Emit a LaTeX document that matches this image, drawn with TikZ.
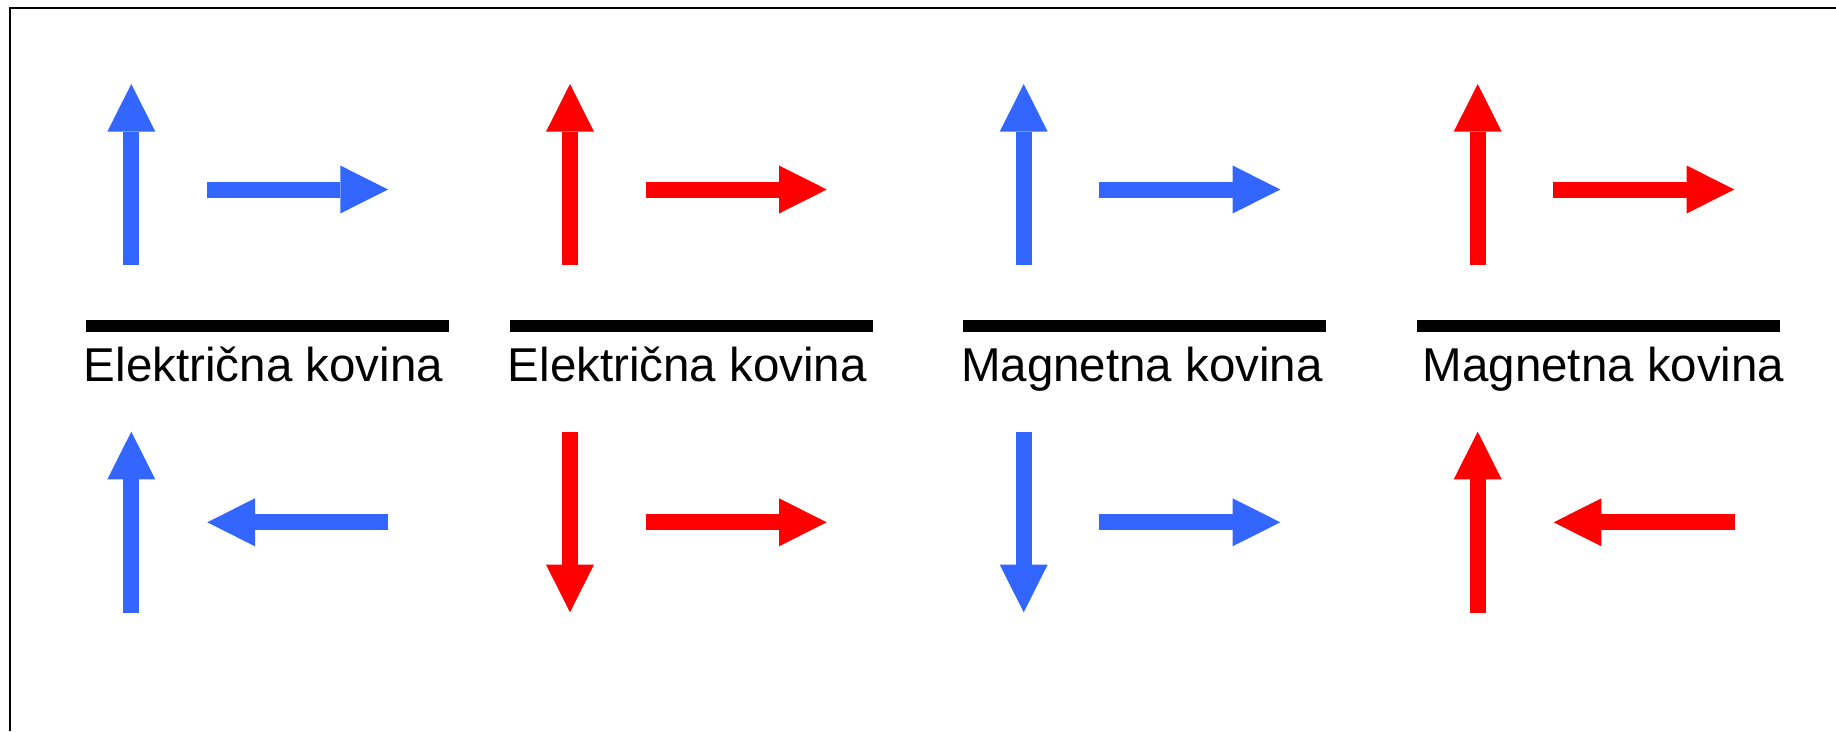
\documentclass[tikz,border=0pt]{standalone}
\usepackage{fontspec}
\setmainfont{Liberation Sans}
\usetikzlibrary{arrows.meta}
\definecolor{myblue}{HTML}{3366FF}
\definecolor{myred}{HTML}{FF0000}
\tikzset{
  fatarrow/.style={line width=16pt, line cap=butt, -{Triangle[length=47.7pt,width=48pt,line width=0pt]}},
  barline/.style={line width=12pt, line cap=butt, black},
  lbl/.style={inner sep=0pt, anchor=base, font=\fontsize{47.5pt}{50pt}\selectfont},
  frameline/.style={line width=2pt, black}
}
\begin{document}
\begin{tikzpicture}[x=1pt,y=-1pt]
\useasboundingbox (0,0) rectangle (1836,731);
\fill[white] (0,0) rectangle (1836,731);
\coordinate (fa) at (10,731);
\coordinate (fb) at (10,8);
\coordinate (fc) at (1836,8);
\draw[frameline] (fa) -- (fb) -- (fc);

% Panel 1
\coordinate (v1a) at (131.3,265);   \coordinate (v1b) at (131.3,84);
\coordinate (h1a) at (207.3,189.5); \coordinate (h1b) at (388,189.5);
\coordinate (u1a) at (131.3,612.7); \coordinate (u1b) at (131.3,431.7);
\coordinate (l1a) at (388.3,522.3); \coordinate (l1b) at (207.3,522.3);
\coordinate (b1a) at (86,326);      \coordinate (b1b) at (449,326);
\draw[fatarrow, myblue] (v1a) -- (v1b);
\draw[fatarrow, myblue] (h1a) -- (h1b);
\draw[fatarrow, myblue] (u1a) -- (u1b);
\draw[fatarrow, myblue] (l1a) -- (l1b);
\draw[barline] (b1a) -- (b1b);
\node[lbl] (t1) at (263.5,381) {Električna kovina};

% Panel 2
\coordinate (v2a) at (570,265);     \coordinate (v2b) at (570,84);
\coordinate (h2a) at (645.7,189.5); \coordinate (h2b) at (826.7,189.5);
\coordinate (d2a) at (570,431.7);   \coordinate (d2b) at (570,612.3);
\coordinate (r2a) at (645.7,522.3); \coordinate (r2b) at (826.7,522.3);
\coordinate (b2a) at (510,326);     \coordinate (b2b) at (872.7,326);
\draw[fatarrow, myred] (v2a) -- (v2b);
\draw[fatarrow, myred] (h2a) -- (h2b);
\draw[fatarrow, myred] (d2a) -- (d2b);
\draw[fatarrow, myred] (r2a) -- (r2b);
\draw[barline] (b2a) -- (b2b);
\node[lbl] (t2) at (687.3,381) {Električna kovina};

% Panel 3
\coordinate (v3a) at (1023.7,265);   \coordinate (v3b) at (1023.7,84);
\coordinate (h3a) at (1099.3,189.5); \coordinate (h3b) at (1280.3,189.5);
\coordinate (d3a) at (1023.7,431.7); \coordinate (d3b) at (1023.7,612.3);
\coordinate (r3a) at (1099.3,522.3); \coordinate (r3b) at (1280.3,522.3);
\coordinate (b3a) at (962.7,326);    \coordinate (b3b) at (1326,326);
\draw[fatarrow, myblue] (v3a) -- (v3b);
\draw[fatarrow, myblue] (h3a) -- (h3b);
\draw[fatarrow, myblue] (d3a) -- (d3b);
\draw[fatarrow, myblue] (r3a) -- (r3b);
\draw[barline] (b3a) -- (b3b);
\node[lbl] (t3) at (1142,381) {Magnetna kovina};

% Panel 4
\coordinate (v4a) at (1477.7,265);   \coordinate (v4b) at (1477.7,84);
\coordinate (h4a) at (1553,189.5);   \coordinate (h4b) at (1734.3,189.5);
\coordinate (u4a) at (1477.7,612.7); \coordinate (u4b) at (1477.7,431.7);
\coordinate (l4a) at (1734.7,522.3); \coordinate (l4b) at (1553.7,522.3);
\coordinate (b4a) at (1417,326);     \coordinate (b4b) at (1780,326);
\draw[fatarrow, myred] (v4a) -- (v4b);
\draw[fatarrow, myred] (h4a) -- (h4b);
\draw[fatarrow, myred] (u4a) -- (u4b);
\draw[fatarrow, myred] (l4a) -- (l4b);
\draw[barline] (b4a) -- (b4b);
\node[lbl] (t4) at (1603.5,381) {Magnetna kovina};
\end{tikzpicture}
\end{document}
